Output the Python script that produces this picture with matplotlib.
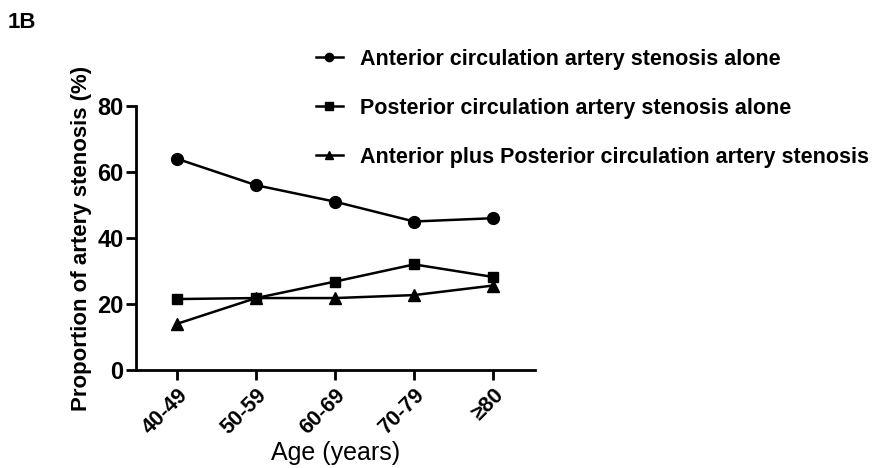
import matplotlib.pyplot as plt
import numpy as np

plt.rcParams['font.family'] = ['Liberation Sans', 'DejaVu Sans']

ages = ["40-49", "50-59", "60-69", "70-79", "≥80"]
anterior = [64.0, 56.0, 51.0, 45.0, 46.0]
posterior = [21.5, 21.8, 26.8, 32.0, 28.2]
both = [14.0, 21.8, 21.8, 22.7, 25.6]

x = np.arange(len(ages))

fig = plt.figure(figsize=(8.75, 4.68), dpi=100)
ax = fig.add_axes([136/875, 1 - 370/468, (535-136)/875, (370-106)/468])

ax.plot(x, anterior, '-o', color='black', lw=1.8, ms=8.5,
        label="Anterior circulation artery stenosis alone")
ax.plot(x, posterior, '-s', color='black', lw=1.8, ms=7.5,
        label="Posterior circulation artery stenosis alone")
ax.plot(x, both, '-^', color='black', lw=1.8, ms=8,
        label="Anterior plus Posterior circulation artery stenosis")

ax.set_ylim(0, 80)
ax.set_yticks([0, 20, 40, 60, 80])
ax.set_xlim(-0.52, 4.53)
ax.set_xticks(x)
ax.set_xticklabels(ages, rotation=45, ha='right', rotation_mode='anchor',
                   fontsize=15.5, fontweight='bold')
for t in ax.get_yticklabels():
    t.set_fontsize(17)
    t.set_fontweight('bold')

for s in ['top', 'right']:
    ax.spines[s].set_visible(False)
for s in ['left', 'bottom']:
    ax.spines[s].set_linewidth(2)
ax.tick_params(width=2, length=7, direction='out')
ax.tick_params(axis='y', pad=2)

ax.set_ylabel("Proportion of artery stenosis (%)", fontsize=16, fontweight='bold',
              labelpad=4)
ax.set_xlabel("Age (years)", fontsize=18, labelpad=2)

fig.legend(loc='upper left', bbox_to_anchor=(316/875, 1 - 49/468), frameon=False,
           prop={'size': 15.5, 'weight': 'bold'}, labelspacing=1.3,
           handlelength=1.25, handletextpad=0.8, markerscale=0.7,
           borderpad=0, borderaxespad=0)

fig.text(8/875, 1 - 23/468, "1B", fontsize=16, fontweight='bold', va='center')

plt.savefig("out.png", dpi=100)
